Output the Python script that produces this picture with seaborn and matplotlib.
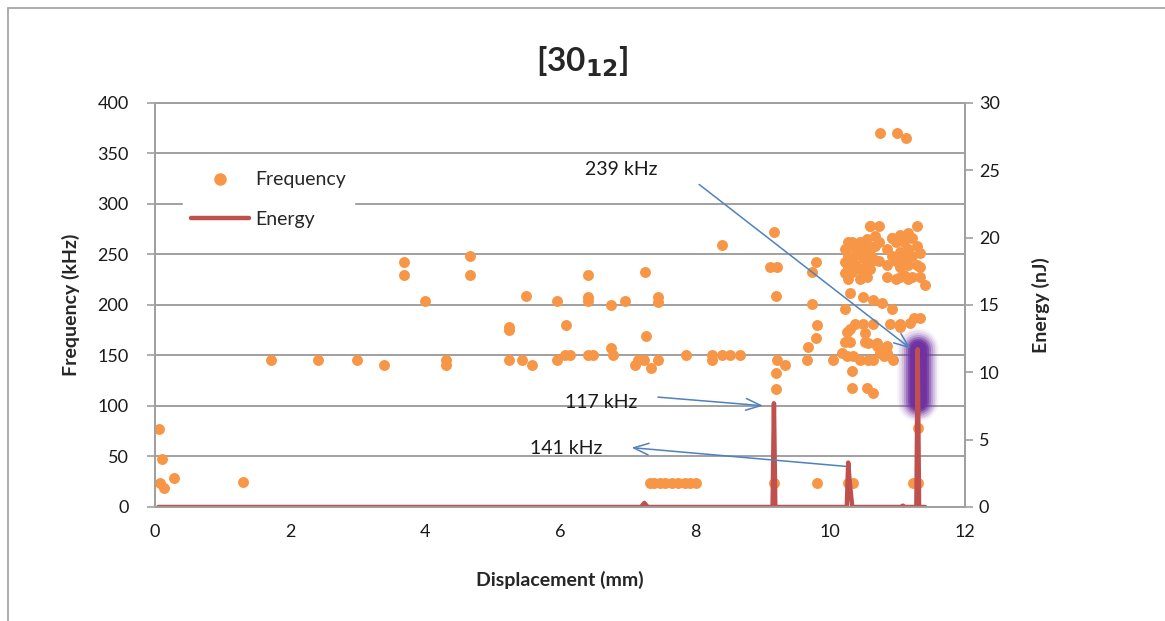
import matplotlib
matplotlib.use("Agg")
import matplotlib.pyplot as plt
import seaborn as sns
from matplotlib.lines import Line2D

# Frequency hits (displacement in mm, frequency in kHz)
freq_x = [0.06, 0.10, 0.07, 0.13, 0.28, 1.30,
          1.72, 2.41, 2.99, 3.39, 3.69, 3.69, 4.00, 4.31, 4.31, 4.67, 4.67,
          5.24, 5.24, 5.24, 5.44, 5.58, 5.50, 5.96, 5.96, 6.07, 6.15, 6.09,
          6.41, 6.41, 6.41, 6.41, 6.49, 6.75, 6.75, 6.78, 6.96,
          7.26, 7.45, 7.45, 7.27, 7.11, 7.15, 7.24, 7.35, 7.45, 7.86,
          8.25, 8.25, 8.40, 8.52, 8.67, 8.40,
          9.11, 9.21, 9.17, 9.20, 9.22, 9.33, 9.20, 9.20,
          9.66, 9.67, 9.79, 9.81, 9.73, 9.73, 9.79,
          7.33, 7.40, 7.48, 7.56, 7.66, 7.75, 7.85, 7.93, 8.01,
          9.17, 9.81, 10.27, 10.34, 11.23, 11.31, 11.31,
          10.04, 10.25, 10.34, 10.30, 10.30, 10.33, 10.33, 10.49, 10.52,
          10.55, 10.64, 10.56, 10.69, 10.56, 10.64, 10.74, 10.84, 10.93,
          10.64, 10.89, 11.04, 11.19, 11.33, 10.59, 11.29,
          10.33, 10.49, 10.92, 11.04, 11.16, 11.33, 11.33, 11.33, 11.41,
          10.30, 10.49, 10.64, 10.77, 10.22, 10.92, 10.37, 10.25,
          11.04, 11.25, 10.18, 10.44, 10.80, 10.22, 10.52, 10.70, 10.84,
          10.22, 10.22, 10.22, 10.27, 10.27, 10.27, 10.27, 10.33, 10.33,
          10.33, 10.38, 10.38, 10.44, 10.44, 10.44, 10.44, 10.49, 10.49,
          10.55, 10.55, 10.55, 10.55, 10.60, 10.60, 10.60, 10.66, 10.66,
          10.66, 10.72, 10.72, 10.72, 10.85, 10.85, 10.85, 10.92, 10.92,
          10.98, 10.98, 10.98, 11.04, 11.04, 11.04, 11.10, 11.10, 11.10,
          11.16, 11.16, 11.16, 11.22, 11.22, 11.22, 11.29, 11.29,
          10.74, 11.00, 11.13]
freq_khz = [77, 48, 24, 19, 29, 25,
            146, 146, 146, 141, 243, 230, 204, 146, 141, 248, 230,
            178, 175, 146, 146, 141, 209, 204, 146, 150, 150, 180,
            230, 208, 204, 150, 150, 200, 157, 150, 204,
            233, 208, 203, 169, 141, 146, 146, 138, 146, 150,
            150, 146, 150, 150, 150, 259,
            238, 238, 272, 209, 146, 141, 133, 117,
            146, 158, 167, 180, 201, 233, 243,
            24, 24, 24, 24, 24, 24, 24, 24, 24,
            24, 24, 24, 24, 24, 24, 78,
            146, 149, 149, 176, 163, 135, 118, 181, 172,
            118, 113, 162, 162, 146, 146, 152, 152, 146,
            181, 181, 181, 182, 187, 278, 278,
            262, 262, 266, 269, 271, 251, 238, 228, 220,
            212, 208, 205, 202, 196, 196, 181, 173,
            178, 187, 152, 146, 149, 163, 163, 159, 159,
            255, 243, 232, 262, 248, 238, 226, 258, 245,
            233, 250, 240, 262, 253, 236, 226, 247, 230,
            265, 256, 242, 228, 278, 250, 236, 268, 258,
            245, 278, 262, 244, 255, 240, 228, 266, 248,
            262, 244, 226, 252, 238, 228, 262, 246, 230,
            255, 240, 226, 266, 248, 228, 258, 240,
            370, 370, 365]

# Acoustic emission energy (displacement in mm, energy in nJ)
energy_x = [0.05, 7.20, 7.25, 7.30, 9.15, 9.17, 9.19, 10.25, 10.27,
            10.29, 10.31, 10.33, 11.05, 11.08, 11.11, 11.28, 11.30, 11.32, 11.41]
energy_nj = [0, 0, 0.3, 0, 0, 7.7, 0, 0, 3.3,
             2.0, 1.0, 0, 0, 0.1, 0, 0, 11.7, 0, 0]

x_ticks = [0, 2, 4, 6, 8, 10, 12]
freq_ticks = [0, 50, 100, 150, 200, 250, 300, 350, 400]
energy_ticks = [0, 5, 10, 15, 20, 25, 30]

sns.set_theme(style="white")
plt.rcParams["font.family"] = ["Lato", "DejaVu Sans"]

orange = "#F79646"
red = "#C0504D"
grey = "#A0A0A0"
arrow_blue = "#4F81BD"

fig = plt.figure(figsize=(11.65, 6.21), dpi=100)
ax = fig.add_axes([0.133, 0.1836, 0.6953, 0.6506])

sns.scatterplot(x=freq_x, y=freq_khz, ax=ax, color=orange, s=62,
                linewidth=0, label="Frequency", zorder=3, legend=False)
ax.set_xlim(0, 12)
ax.set_ylim(0, 400)
ax.set_xticks(x_ticks)
ax.set_yticks(freq_ticks)
ax.yaxis.grid(True, color=grey, lw=1.4)
ax.set_axisbelow(True)
for s in ax.spines.values():
    s.set_color(grey)
    s.set_linewidth(1.3)
ax.tick_params(axis="both", direction="out", length=6, width=1.2,
               color=grey, labelsize=13, labelcolor="#1a1a1a")
ax.tick_params(axis="x", pad=6)
ax.tick_params(axis="y", pad=13)
ax.set_xlabel("Displacement (mm)", fontsize=14, fontweight="bold")
ax.set_ylabel("Frequency (kHz)", fontsize=14, fontweight="bold")
ax.xaxis.set_label_coords(0.5, -0.157)
ax.yaxis.set_label_coords(-0.092, 0.5)

ax2 = ax.twinx()
# purple highlight around the biggest energy spike
peak_i = energy_nj.index(max(energy_nj))
peak_x = energy_x[peak_i]
peak_e = energy_nj[peak_i]
for w, a in [(30, 0.06), (27, 0.1), (24, 0.16), (21, 0.25), (18, 0.4),
             (15, 0.65), (12, 0.9)]:
    ax2.plot([peak_x, peak_x], [peak_e * 0.67, peak_e * 1.0], color="#7030A0",
             lw=w, alpha=a, solid_capstyle="round", zorder=1)
sns.lineplot(x=energy_x, y=energy_nj, ax=ax2, color=red, linewidth=3.2,
             label="Energy", estimator=None, sort=False, zorder=2, legend=False)
ax2.set_ylim(0, 30)
ax2.set_yticks(energy_ticks)
ax2.set_ylabel("Energy (nJ)", fontsize=14, fontweight="bold")
ax2.yaxis.set_label_coords(1.083, 0.5)
ax2.yaxis.label.set_rotation(90)
for s in ax2.spines.values():
    s.set_color(grey)
    s.set_linewidth(1.3)
ax2.tick_params(axis="y", direction="out", length=6, width=1.2, color=grey,
                labelsize=13, labelcolor="#1a1a1a", pad=4)

# annotations
notes = [("239 kHz", (6.37, 334), (8.03, 321), (11.23, 155)),
         ("117 kHz", (6.07, 103), (7.41, 109), (9.05, 100)),
         ("141 kHz", (5.56, 58), (10.27, 40), (7.02, 59))]
for label, txt_pos, tail, head in notes:
    ax2.text(txt_pos[0], txt_pos[1], label, transform=ax.transData,
             fontsize=14, ha="left", va="center", color="#1a1a1a", zorder=6)
    ax2.annotate("", xy=head, xycoords=ax.transData, xytext=tail,
                 textcoords=ax.transData,
                 arrowprops=dict(arrowstyle="->,head_length=0.9,head_width=0.35",
                                 color=arrow_blue, lw=1.1), zorder=6)

handles = [Line2D([], [], marker="o", color=orange, linestyle="none", markersize=8),
           Line2D([], [], color=red, lw=3.2)]
leg = ax2.legend(handles, ["Frequency", "Energy"], loc="upper left",
                 bbox_to_anchor=(0.035, 0.85), borderaxespad=0, frameon=True,
                 facecolor="white", edgecolor="white", framealpha=1,
                 fancybox=False, fontsize=14, handlelength=3.0,
                 labelspacing=1.15, handletextpad=0.3)
leg.set_zorder(7)

fig.text(0.5, 0.90, r"[30$_{\mathbf{12}}$]", fontsize=24, fontweight="bold",
         ha="center", va="center")

# chart area border (left and top edges visible)
fig.add_artist(Line2D([8 / 1165, 8 / 1165], [0, 1 - 8 / 621],
                      transform=fig.transFigure, color=grey, lw=1.2))
fig.add_artist(Line2D([8 / 1165, 1], [1 - 8 / 621, 1 - 8 / 621],
                      transform=fig.transFigure, color=grey, lw=1.2))

fig.savefig("out.png", dpi=100)
